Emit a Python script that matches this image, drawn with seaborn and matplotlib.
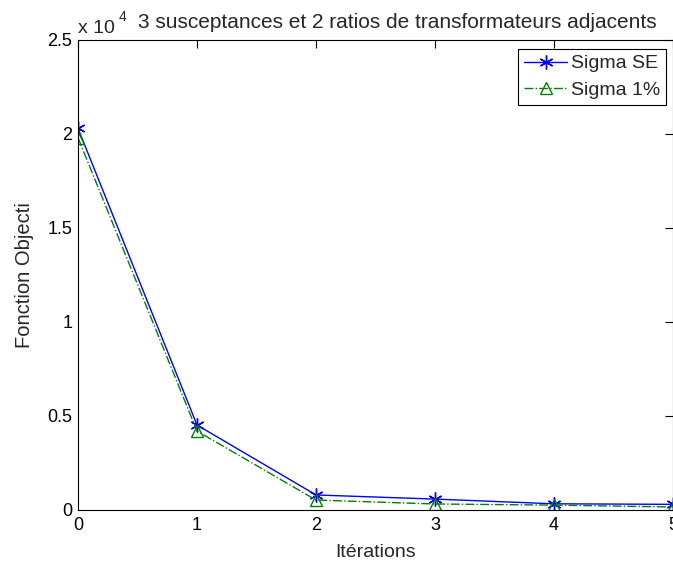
import matplotlib
matplotlib.use("Agg")
import matplotlib.pyplot as plt
import seaborn as sns
import pandas as pd

# values (objective function per iteration)
iterations = [0, 1, 2, 3, 4, 5]
sigma_se = [20300, 4520, 800, 580, 330, 300]
sigma_1pct = [19800, 4200, 530, 320, 260, 160]
y_ticks = [0, 5000, 10000, 15000, 20000, 25000]
y_tick_labels = ["0", "0.5", "1", "1.5", "2", "2.5"]

df = pd.DataFrame({"it": iterations, "se": sigma_se, "p1": sigma_1pct})

sns.set_style("white")
plt.rcParams['font.family'] = ['Liberation Sans', 'DejaVu Sans']

W, H = 673, 565
fig = plt.figure(figsize=(W / 100, H / 100), dpi=100)
ax = fig.add_axes([78 / W, 1 - 510 / H, 1 - 78 / W, 470 / H])

sns.lineplot(data=df, x="it", y="se", ax=ax, color="#0000ff", lw=1,
             marker=(6, 2, 0), markersize=10, markeredgewidth=1,
             markeredgecolor="#0000ff", label="Sigma SE")
sns.lineplot(data=df, x="it", y="p1", ax=ax, color="#008000", lw=1,
             linestyle="-.", marker="^", markersize=8, markeredgewidth=1,
             markerfacecolor="none", markeredgecolor="#008000", label="Sigma 1%")

ax.set_xlim(0, 5)
ax.set_ylim(0, 25000)
ax.set_xticks(iterations)
ax.set_yticks(y_ticks)
ax.set_yticklabels(y_tick_labels)
ax.tick_params(direction="in", top=True, right=True, length=6, width=0.8,
               labelsize=13, colors="black")
ax.tick_params(axis="x", pad=5)
ax.tick_params(axis="y", pad=4)
for s in ax.spines.values():
    s.set_color("black")
    s.set_linewidth(0.8)

ax.set_xlabel("Itérations", fontsize=14, labelpad=7)
ax.set_ylabel("Fonction Objecti", fontsize=14.5, labelpad=10)

fig.text(78 / W, 1 - 33 / H, "x 10", fontsize=14, ha="left", va="baseline")
fig.text(119 / W, 1 - 21 / H, "4", fontsize=10, ha="left", va="baseline")
fig.text(138 / W, 1 - 28 / H, "3 susceptances et 2 ratios de transformateurs adjacents",
         fontsize=15, ha="left", va="baseline")

leg = ax.legend(loc="upper right", bbox_to_anchor=(666 / W, 1 - 49 / H),
                bbox_transform=fig.transFigure, fancybox=False, framealpha=1,
                edgecolor="black", fontsize=14, handlelength=2.2,
                borderaxespad=0, handletextpad=0.2, borderpad=0.3, labelspacing=0.45)
leg.get_frame().set_linewidth(0.8)

fig.savefig("out.png", dpi=100)
